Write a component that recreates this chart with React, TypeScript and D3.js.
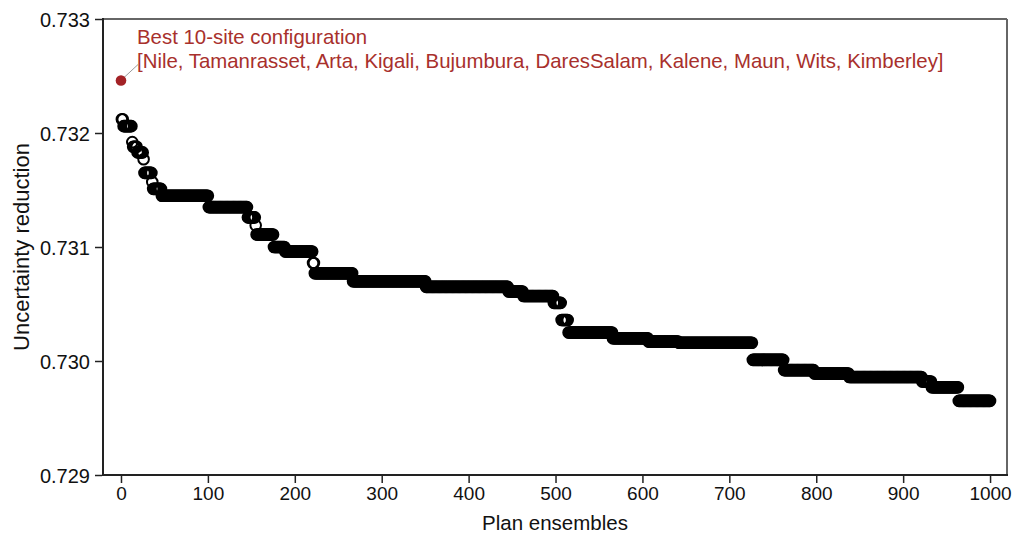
import * as d3 from "d3";
import React, { useEffect, useRef } from "react";

// plateaus of the sorted ensemble: first plan, last plan, uncertainty reduction
const segStart = [1, 3, 13, 14, 19, 26, 27, 36, 37, 47, 101, 146, 155, 156, 176, 189, 221, 223, 267, 351, 446, 463, 498, 507, 515, 566, 607, 642, 727, 763, 798, 838, 922, 933, 964];
const segEnd = [2, 12, 13, 18, 25, 26, 35, 36, 46, 100, 145, 154, 155, 175, 188, 220, 222, 266, 350, 445, 462, 497, 506, 514, 565, 606, 641, 726, 762, 797, 837, 921, 932, 963, 1000];
const segValue = [0.73212, 0.73206, 0.73192, 0.73188, 0.73183, 0.73177, 0.73165, 0.73157, 0.73151, 0.73145, 0.73135, 0.73126, 0.73119, 0.73111, 0.731, 0.73096, 0.73086, 0.73077, 0.7307, 0.73065, 0.73061, 0.73057, 0.73051, 0.73036, 0.73025, 0.7302, 0.73017, 0.73016, 0.73001, 0.72992, 0.72989, 0.72986, 0.72982, 0.72977, 0.72965];

const bestPlan = 0;
const bestValue = 0.73246;
const bestTitle = "Best 10-site configuration";
const bestSites = ["Nile", "Tamanrasset", "Arta", "Kigali", "Bujumbura", "DaresSalam", "Kalene", "Maun", "Wits", "Kimberley"];

const xTicks = [0, 100, 200, 300, 400, 500, 600, 700, 800, 900, 1000];
const yTicks = [0.729, 0.73, 0.731, 0.732, 0.733];

interface Pt { plan: number; value: number; }

export default function App() {
  const xAxisRef = useRef<SVGGElement>(null);
  const yAxisRef = useRef<SVGGElement>(null);

  const width = 1020;
  const height = 544;
  const left = 103, right = 1007, top = 19, bottom = 475;

  const x = d3.scaleLinear().domain([-20.7, 1019.5]).range([left, right]);
  const y = d3.scaleLinear().domain([0.729, 0.733]).range([bottom, top]);

  const points: Pt[] = [];
  segStart.forEach((s, i) => {
    for (let p = s; p <= segEnd[i]; p++) points.push({ plan: p, value: segValue[i] });
  });

  useEffect(() => {
    const xAxis = d3.axisBottom(x).tickValues(xTicks).tickSize(7).tickPadding(4)
      .tickFormat(d3.format("d"));
    const yAxis = d3.axisLeft(y).tickValues(yTicks).tickSize(7).tickPadding(5)
      .tickFormat(d3.format(".3f"));

    const xg = d3.select(xAxisRef.current).call(xAxis);
    const yg = d3.select(yAxisRef.current).call(yAxis);
    [xg, yg].forEach((g) => {
      g.select(".domain").remove();
      g.selectAll(".tick line").attr("stroke", "#222").attr("stroke-width", 1.5);
      g.selectAll(".tick text")
        .attr("fill", "#111")
        .style("font-family", "'Liberation Sans', Arial, sans-serif");
    });
    xg.selectAll(".tick text").style("font-size", "19px");
    yg.selectAll(".tick text").style("font-size", "20px").attr("dy", "0.35em");
  }, []);

  const font = "'Liberation Sans', Arial, sans-serif";
  const bx = x(bestPlan);
  const by = y(bestValue);

  return (
    <svg width={width} height={height} style={{ position: "absolute", left: 0, top: 0, background: "#fff" }}>
      <line x1={left} x2={right} y1={top} y2={top} stroke="#666" strokeWidth={2} />
      <line x1={right} x2={right} y1={top} y2={bottom} stroke="#666" strokeWidth={2} />
      <line x1={left} x2={left} y1={top - 1} y2={bottom + 1} stroke="#222" strokeWidth={2} />
      <line x1={left - 1} x2={right + 1} y1={bottom} y2={bottom} stroke="#222" strokeWidth={2} />

      <g ref={xAxisRef} transform={`translate(0,${bottom + 1})`} />
      <g ref={yAxisRef} transform={`translate(${left - 1},0)`} />

      <g fill="none" stroke="#000" strokeWidth={2}>
        {points.map((d) => (
          <circle key={d.plan} cx={x(d.plan)} cy={y(d.value)} r={5.3} />
        ))}
      </g>

      <line x1={bx + 3} y1={by - 3} x2={bx + 17} y2={by - 16} stroke="#999" strokeWidth={1} />
      <circle cx={bx} cy={by} r={5.3} fill="#a32226" />
      <g fill="#a8302c" style={{ fontFamily: font, fontSize: "20.4px" }}>
        <text x={137} y={44}>{bestTitle}</text>
        <text x={137} y={68}>{`[${bestSites.join(", ")}]`}</text>
      </g>

      <text x={(left + right) / 2} y={530} textAnchor="middle"
        style={{ fontFamily: font, fontSize: "20.5px" }} fill="#111">Plan ensembles</text>
      <text transform={`translate(29,${(top + bottom) / 2}) rotate(-90)`} textAnchor="middle"
        style={{ fontFamily: font, fontSize: "22px" }} fill="#111">Uncertainty reduction</text>
    </svg>
  );
}
